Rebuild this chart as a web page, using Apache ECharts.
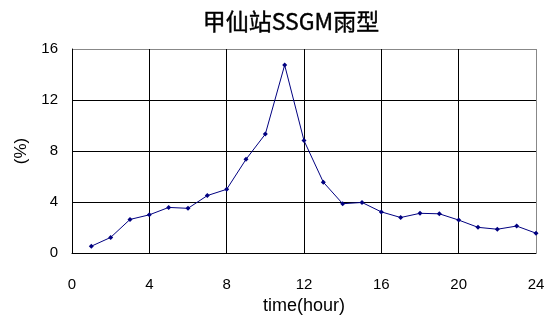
<!DOCTYPE html>
<html><head><meta charset="utf-8">
<script src="https://cdn.jsdelivr.net/npm/echarts@6/dist/echarts.min.js"></script>
<style>html,body{margin:0;padding:0;background:#fff}#c{width:550px;height:320px}</style>
</head><body><div id="c"></div>
<script>
var titleText = '甲仙站SSGM雨型';
var hours = [1,2,3,4,5,6,7,8,9,10,11,12,13,14,15,16,17,18,19,20,21,22,23,24];
var percent = [0.54,1.23,2.64,3.0,3.58,3.51,4.51,5.0,7.35,9.33,14.74,8.82,5.56,3.87,3.97,3.23,2.79,3.12,3.08,2.59,2.02,1.87,2.12,1.56];
var xTicks = [0,4,8,12,16,20,24];
var yTicks = [0,4,8,12,16];

var chart = echarts.init(document.getElementById('c'));
chart.setOption({
  animation: false,
  graphic: [{
    type: 'text', x: 291, y: 21,
    style: {text: titleText, textAlign: 'center', textVerticalAlign: 'middle',
      fontFamily: 'Noto Sans CJK TC', fontSize: 23, fontWeight: 'normal', fill: '#000',
      stroke: '#000', lineWidth: 0.4}
  }],
  grid: {left: 72, right: 14, top: 49, bottom: 63, containLabel: false},
  xAxis: {
    type: 'value', min: 0, max: 24, interval: 4,
    name: 'time(hour)', nameLocation: 'middle', nameGap: 41,
    nameTextStyle: {fontFamily: 'Liberation Sans', fontSize: 18, color: '#000'},
    axisLine: {show: true, lineStyle: {color: '#000', width: 1}},
    axisTick: {show: false},
    axisLabel: {margin: 24, fontFamily: 'Liberation Sans', fontSize: 15, color: '#000'},
    splitLine: {show: true, lineStyle: {color: ['#000','#000','#000','#000','#000','#000','#888'], width: 1}}
  },
  yAxis: {
    type: 'value', min: 0, max: 16, interval: 4,
    name: '(%)', nameLocation: 'middle', nameGap: 42,
    nameTextStyle: {fontFamily: 'Liberation Sans', fontSize: 17, color: '#000'},
    axisLine: {show: true, lineStyle: {color: '#000', width: 1}},
    axisTick: {show: false},
    axisLabel: {margin: 14, fontFamily: 'Liberation Sans', fontSize: 15, color: '#000'},
    splitLine: {show: true, lineStyle: {color: ['#000','#000','#000','#000','#888'], width: 1}}
  },
  series: [{
    type: 'line',
    data: hours.map(function(h, i){ return [h, percent[i]]; }),
    symbol: 'diamond', symbolSize: 5, showSymbol: true,
    lineStyle: {color: '#000080', width: 1},
    itemStyle: {color: '#000080'}
  }]
});
</script></body></html>
